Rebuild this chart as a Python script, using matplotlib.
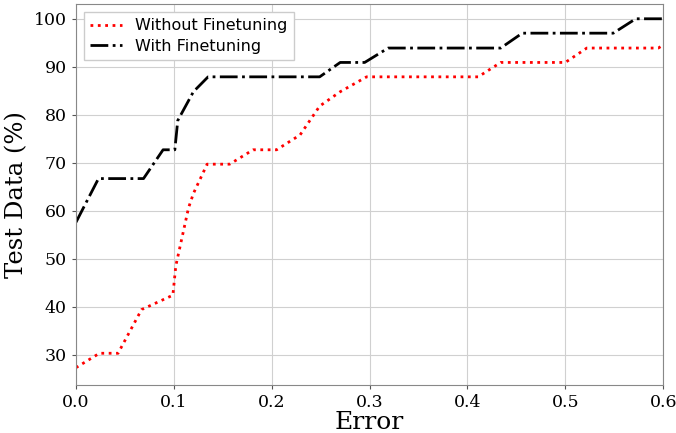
import matplotlib
matplotlib.use("Agg")
import matplotlib.pyplot as plt

# Data (fraction of test data below given error)
err_without = [0.0, 0.024, 0.043, 0.067, 0.099, 0.102, 0.115, 0.120, 0.134, 0.157,
               0.181, 0.205, 0.229, 0.249, 0.270, 0.297, 0.411, 0.434, 0.500,
               0.522, 0.595, 0.600]
acc_without = [27.3, 30.3, 30.3, 39.4, 42.4, 48.5, 60.6, 63.6, 69.7, 69.7,
               72.7, 72.7, 75.8, 81.8, 84.8, 87.9, 87.9, 90.9, 90.9,
               93.9, 93.9, 94.5]

err_with = [0.0, 0.023, 0.069, 0.089, 0.101, 0.104, 0.120, 0.135, 0.249, 0.270,
            0.295, 0.319, 0.434, 0.456, 0.549, 0.572, 0.600]
acc_with = [57.6, 66.7, 66.7, 72.7, 72.7, 78.8, 84.8, 87.9, 87.9, 90.9,
            90.9, 93.9, 93.9, 97.0, 97.0, 100.0, 100.0]

x_ticks = [0.0, 0.1, 0.2, 0.3, 0.4, 0.5, 0.6]
y_ticks = [30, 40, 50, 60, 70, 80, 90, 100]

fig = plt.figure(figsize=(6.76, 4.33), dpi=100)
ax = fig.add_axes([0.1124, 0.111, 0.8686, 0.880])

ax.plot(err_without, acc_without, color="red", linestyle=":", linewidth=2,
        label="Without Finetuning")
ax.plot(err_with, acc_with, color="black", linestyle="-.", linewidth=2,
        label="With Finetuning")

ax.set_xlim(0.0, 0.6)
ax.set_ylim(23.7, 103.1)
ax.set_xticks(x_ticks)
ax.set_yticks(y_ticks)
ax.grid(True, color="#d0d0d0", linewidth=0.8)
ax.set_axisbelow(True)

for lab in ax.get_xticklabels() + ax.get_yticklabels():
    lab.set_family("DejaVu Serif")
    lab.set_fontsize(12.5)
ax.tick_params(length=3, color="#555555")
for s in ax.spines.values():
    s.set_color("#888888")

ax.set_xlabel("Error", family="DejaVu Serif", fontsize=18, labelpad=0)
ax.set_ylabel("Test Data (%)", family="DejaVu Serif", fontsize=17.5, labelpad=4)

leg = ax.legend(loc="upper left", prop={"family": "DejaVu Sans", "size": 11.5},
                labelspacing=0.35, fancybox=False, framealpha=1,
                edgecolor="#cccccc")

fig.savefig("out.png", dpi=100)
